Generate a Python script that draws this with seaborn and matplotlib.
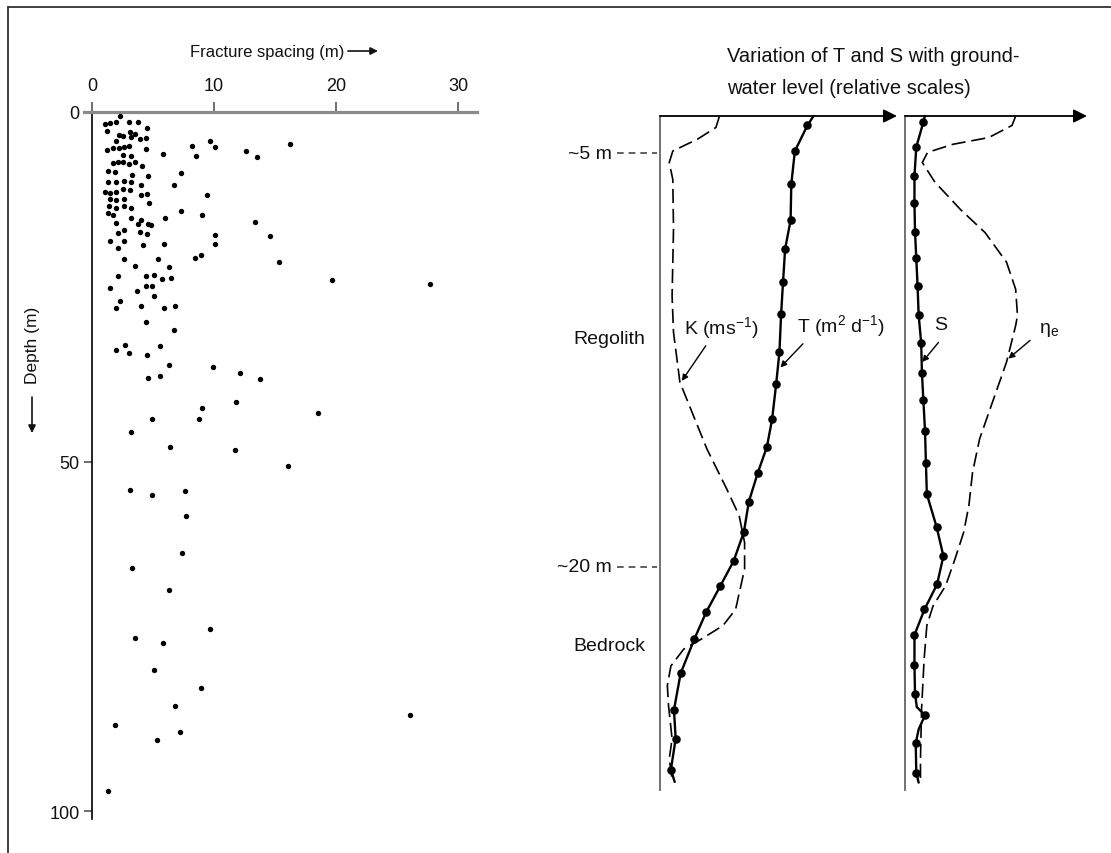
import seaborn as sns
import matplotlib.pyplot as plt
from matplotlib.lines import Line2D

W, H = 1111, 854

# fracture spacing (m) vs depth (m)
spacing = [2.3, 1.1, 1.5, 2.0, 3.0, 3.8, 1.2, 4.5, 3.1, 3.5, 2.2, 2.5, 3.2, 3.9, 4.4,
           2.0, 1.7, 2.2, 1.2, 2.6, 3.0, 4.4, 5.8, 8.2, 9.7, 10.1, 12.6, 13.5, 16.2,
           8.5, 2.5, 3.2, 1.7, 2.1, 2.5, 3.0, 3.5, 4.1, 1.3, 1.9, 3.3, 4.6, 7.3, 1.3,
           2.0, 2.6, 3.2, 4.0, 6.7, 1.1, 1.5, 2.0, 2.5, 3.1, 4.0, 4.5, 9.4, 1.5, 2.0,
           2.6, 4.7, 1.4, 2.0, 2.6, 3.2, 1.3, 1.7, 3.2, 6.0, 7.3, 9.0, 13.4, 2.0, 3.8,
           4.0, 4.6, 4.8, 2.1, 2.6, 3.9, 4.5, 1.5, 2.6, 4.2, 10.1, 14.6, 2.1, 5.9,
           10.1, 2.6, 5.4, 8.4, 8.9,
           15.3, 3.5, 6.3, 2.1, 4.4, 5.1, 5.7, 6.5, 1.5, 3.7, 4.4, 4.9, 5.1, 2.3,
           2.0, 4.0, 5.9, 6.8, 4.4, 6.7, 19.7, 27.7, 2.7, 2.0, 3.0, 4.5, 5.6, 6.3,
           9.9, 12.1, 13.8, 4.6, 5.6, 11.8, 9.0, 18.5, 4.9, 8.8, 3.2, 6.4, 11.7,
           16.1, 3.1, 4.9, 7.6,
           7.7, 7.4, 3.3, 6.3, 9.7, 3.5, 5.8, 5.1, 8.9, 6.8, 26.1, 1.9, 7.2, 5.3, 1.3]
depth = [0.6, 1.7, 1.6, 1.5, 1.4, 1.4, 2.7, 2.3, 2.8, 3.1, 3.3, 3.5, 3.6, 3.9, 3.7,
         4.1, 5.1, 5.1, 5.4, 5.0, 4.8, 5.3, 6.0, 4.8, 4.2, 5.0, 5.6, 6.4, 4.6,
         6.3, 6.1, 6.3, 7.3, 7.1, 7.2, 7.5, 7.2, 7.7, 8.4, 8.6, 9.0, 9.1, 8.7, 10.0,
         10.0, 9.8, 10.0, 10.4, 10.4, 11.4, 11.6, 11.4, 11.0, 11.1, 11.8, 11.7, 11.9, 12.5, 12.6,
         12.5, 13.0, 13.4, 13.7, 13.4, 13.7, 14.4, 14.7, 15.1, 15.1, 14.1, 14.8, 15.8, 15.9, 16.0,
         15.5, 16.0, 16.1, 17.3, 16.9, 17.1, 17.4, 18.5, 18.4, 19.0, 17.6, 17.7, 19.4, 18.9,
         18.9, 21.0, 21.0, 20.9, 20.4,
         21.5, 22.0, 22.2, 23.4, 23.4, 23.3, 23.9, 23.7, 25.2, 25.6, 24.9, 24.9, 26.3, 27.0,
         28.0, 27.8, 28.0, 27.8, 30.1, 31.2, 24.0, 24.6, 33.3, 34.0, 34.5, 34.7, 33.4, 36.2,
         36.4, 37.3, 38.2, 38.1, 37.8, 41.4, 42.3, 43.0, 43.9, 43.9, 45.7, 47.9, 48.4,
         50.6, 54.0, 54.7, 54.2,
         57.8, 63.0, 65.2, 68.3, 73.9, 75.2, 75.9, 79.8, 82.4, 85.0, 86.2, 87.7, 88.7, 89.8, 97.1]
x_ticks = [0, 10, 20, 30]
y_ticks = [0, 50, 100]

# right panels: relative value (0-100) vs relative depth (0-100)
T_line_x = [64.8, 62.2, 56.9, 55.4, 55.1, 52.8, 51.9, 51.1, 50.4, 49.0, 47.3, 45.1, 41.3,
            37.5, 35.4, 31.1, 25.5, 19.5, 14.5, 8.7, 5.9, 6.6, 4.6, 6.2]
T_line_y = [0.0, 1.4, 5.2, 10.1, 15.5, 19.7, 24.7, 29.4, 35.0, 39.8, 45.0, 49.1, 52.9,
            57.2, 61.7, 66.0, 69.7, 73.6, 77.6, 82.7, 88.1, 92.4, 97.0, 98.8]
T_dot_x = T_line_x[1:-1]
T_dot_y = T_line_y[1:-1]
K_x = [25.1, 23.6, 16.0, 5.4, 3.9, 5.4, 5.7, 5.1, 5.7, 8.4, 13.0, 19.8, 28.1, 33.4, 35.7,
       35.7, 31.9, 26.6, 17.5, 10.0, 4.6, 3.1, 3.6, 5.1, 3.9, 5.1]
K_y = [0.0, 1.7, 3.4, 5.2, 6.9, 9.4, 16.8, 26.7, 32.1, 39.5, 43.5, 49.4, 55.3, 59.3, 63.3,
       67.2, 73.2, 75.6, 77.6, 79.1, 81.6, 84.5, 87.5, 92.4, 95.4, 98.4]

S_line_x = [10.9, 10.1, 6.2, 5.2, 5.2, 5.5, 6.2, 6.9, 7.5, 8.9, 9.3, 10.1, 11.0, 11.5, 12.0,
            17.4, 21.1, 17.6, 10.7, 5.2, 5.2, 5.5, 6.5, 11.0, 7.5, 5.9, 6.2, 7.5]
S_line_y = [0.0, 0.9, 4.6, 8.9, 12.9, 17.2, 21.1, 25.2, 29.5, 33.7, 38.1, 42.2, 46.7, 51.5, 56.1,
            61.0, 65.3, 69.5, 73.2, 77.0, 81.5, 85.7, 87.7, 88.9, 91.0, 93.1, 97.5, 98.9]
S_dot_x = [10.1, 6.2, 5.2, 5.2, 5.5, 6.2, 6.9, 7.5, 8.9, 9.3, 10.1, 11.0, 11.5, 12.0,
           17.4, 21.1, 17.6, 10.7, 5.2, 5.2, 5.5, 11.0, 5.9, 6.2]
S_dot_y = [0.9, 4.6, 8.9, 12.9, 17.2, 21.1, 25.2, 29.5, 33.7, 38.1, 42.2, 46.7, 51.5, 56.1,
           61.0, 65.3, 69.5, 73.2, 77.0, 81.5, 85.7, 88.9, 93.1, 97.5]
eta_x = [60.8, 58.8, 46.0, 26.3, 12.4, 9.5, 16.4, 30.2, 44.0, 55.8, 60.8, 61.8, 60.8, 55.8,
         48.0, 41.0, 37.1, 35.1, 32.2, 27.5, 22.3, 15.4, 12.0, 10.5, 9.1, 8.5, 8.5]
eta_y = [0.0, 1.4, 3.2, 4.2, 5.4, 6.9, 9.8, 13.8, 17.3, 21.7, 25.7, 29.6, 31.1, 36.5,
         42.5, 47.9, 52.9, 57.8, 61.8, 65.7, 69.7, 72.7, 75.6, 80.6, 88.0, 95.4, 98.6]

sns.set_theme(style="white")
plt.rcParams['font.family'] = ['Liberation Sans', 'DejaVu Sans']
plt.rcParams['mathtext.fontset'] = 'custom'
plt.rcParams['mathtext.rm'] = 'Liberation Sans'
plt.rcParams['mathtext.it'] = 'Liberation Sans:italic'
plt.rcParams['text.color'] = '#111111'

fig = plt.figure(figsize=(W / 100, H / 100), dpi=100)
fig.patch.set_facecolor('white')


def fx(px):
    return px / W


def fy(py):
    return 1 - py / H


# ---- left panel: fracture spacing
ax = fig.add_axes([fx(84), fy(820), 393 / W, 707 / H])
ax.set_facecolor('none')
sns.scatterplot(x=spacing, y=depth, color='black', s=15, linewidth=0, ax=ax, zorder=3)
ax.set_xlim(-0.66, 31.56)
ax.set_ylim(101.1, 0)
ax.xaxis.tick_top()
ax.set_xticks(x_ticks)
ax.set_yticks(y_ticks)
for side in ['right', 'bottom']:
    ax.spines[side].set_visible(False)
ax.spines['left'].set_position(('data', 0))
ax.spines['left'].set_color('black')
ax.spines['left'].set_linewidth(1.2)
ax.spines['top'].set_color('#8a8a8a')
ax.spines['top'].set_linewidth(2.3)
ax.tick_params(axis='x', top=True, bottom=False, direction='out', length=7, width=1.2,
               color='#555', pad=6, labelsize=13, labelcolor='#111')
ax.tick_params(axis='y', left=True, right=False, direction='out', length=6, width=1.2,
               color='#555', pad=3, labelsize=13, labelcolor='#111')
ax.set_xlabel('')
ax.set_ylabel('')

fig.text(fx(190), fy(52), 'Fracture spacing (m)', ha='left', va='center', fontsize=12)
ax.annotate('', xy=(fx(378), fy(52)), xytext=(fx(348), fy(52)), xycoords='figure fraction',
            arrowprops=dict(arrowstyle='-|>', color='#111', lw=1.2, mutation_scale=11,
                            shrinkA=0, shrinkB=0))
fig.text(fx(32), fy(345), 'Depth (m)', rotation=90, ha='center', va='center', fontsize=12.5)
ax.annotate('', xy=(fx(32), fy(434)), xytext=(fx(32), fy(398)), xycoords='figure fraction',
            arrowprops=dict(arrowstyle='-|>', color='#111', lw=1.2, mutation_scale=11,
                            shrinkA=0, shrinkB=0))

# ---- right panels
p1 = fig.add_axes([fx(660), fy(791), 237 / W, 674 / H])
p2 = fig.add_axes([fx(905), fy(791), 182 / W, 674 / H])
for p in (p1, p2):
    p.set_facecolor('none')
    p.set_xlim(0, 100)
    p.set_ylim(100, 0)
    p.set_xticks([])
    p.set_yticks([])
    for side in ['top', 'right', 'bottom']:
        p.spines[side].set_visible(False)
    p.spines['left'].set_color('#666')
    p.spines['left'].set_linewidth(1.3)
    p.annotate('', xy=(1, 1), xytext=(0, 1), xycoords='axes fraction', annotation_clip=False,
               arrowprops=dict(arrowstyle='-|>', color='black', lw=1.3, mutation_scale=20,
                               shrinkA=0, shrinkB=0))

dash = (0, (8.5, 3.5))
sns.lineplot(x=K_x, y=K_y, sort=False, estimator=None, color='black', lw=1.2,
             linestyle=dash, ax=p1, clip_on=False)
sns.lineplot(x=T_line_x, y=T_line_y, sort=False, estimator=None, color='black', lw=1.7,
             ax=p1, clip_on=False)
sns.scatterplot(x=T_dot_x, y=T_dot_y, color='black', s=38, linewidth=0, ax=p1, zorder=4)

sns.lineplot(x=eta_x, y=eta_y, sort=False, estimator=None, color='black', lw=1.2,
             linestyle=dash, ax=p2, clip_on=False)
sns.lineplot(x=S_line_x, y=S_line_y, sort=False, estimator=None, color='black', lw=1.7,
             ax=p2, clip_on=False)
sns.scatterplot(x=S_dot_x, y=S_dot_y, color='black', s=38, linewidth=0, ax=p2, zorder=4)

# depth markers with dashed leaders
for lab, yv, px_right in [('~5 m', 5.5, 612), ('~20 m', 66.9, 612)]:
    p1.plot([-18.0, -1.3], [yv, yv], color='#444', lw=1.2, linestyle=(0, (4, 3)),
            clip_on=False)
    fig.text(fx(px_right), fy(117 + yv * 6.74), lab, ha='right', va='center', fontsize=14)

fig.text(fx(645), fy(340), 'Regolith', ha='right', va='center', fontsize=14)
fig.text(fx(645), fy(647), 'Bedrock', ha='right', va='center', fontsize=14)

fig.text(fx(727), fy(57), 'Variation of T and S with ground-', ha='left', va='center',
         fontsize=14.5)
fig.text(fx(727), fy(89), 'water level (relative scales)', ha='left', va='center',
         fontsize=14.5)

arrow_kw = dict(arrowstyle='-|>', color='black', lw=1.0, mutation_scale=9,
                shrinkA=0, shrinkB=0)
fig.text(fx(684), fy(328), r'K (ms$^{-1}$)', ha='left', va='center', fontsize=14)
p1.annotate('', xy=(9.2, 39.3), xytext=(19.3, 34.1), arrowprops=arrow_kw)
fig.text(fx(797), fy(326), r'T (m$^{2}$ d$^{-1}$)', ha='left', va='center', fontsize=14)
p1.annotate('', xy=(50.8, 37.3), xytext=(60.3, 33.8), arrowprops=arrow_kw)
fig.text(fx(934), fy(326), 'S', ha='left', va='center', fontsize=14)
p2.annotate('', xy=(9.5, 36.5), xytext=(18.4, 33.6), arrowprops=arrow_kw)
fig.text(fx(1039), fy(330), r'$\mathrm{\eta}_{\mathrm{e}}$', ha='left', va='center', fontsize=14)
p2.annotate('', xy=(56.8, 36.0), xytext=(68.7, 33.3), arrowprops=arrow_kw)

# outer frame (left and top)
fig.add_artist(Line2D([fx(8), fx(8)], [0, fy(8)], color='#333', lw=1.3))
fig.add_artist(Line2D([fx(8), 1], [fy(8), fy(8)], color='#333', lw=1.3))

fig.savefig('out.png', dpi=100, facecolor='white')
